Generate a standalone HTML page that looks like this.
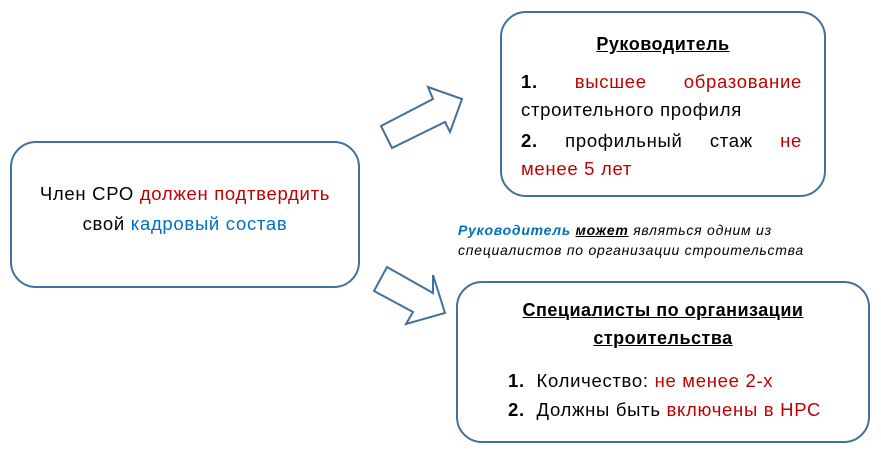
<!DOCTYPE html>
<html><head><meta charset="utf-8"><style>
body{margin:0;width:881px;height:462px;background:#fff;position:relative;overflow:hidden;font-family:"Liberation Sans","DejaVu Sans",sans-serif;color:#000}
.box{position:absolute;border:2px solid #41719c;border-radius:26px;box-sizing:border-box;background:#fff}
.t{position:absolute;white-space:nowrap;font-size:18.5px;line-height:22px;letter-spacing:0.7px}
.r{color:#c00000}.b{color:#0070c0}
.c{text-align:center}
.h{font-weight:bold;text-decoration:underline;font-size:18px;letter-spacing:0.5px}
</style></head><body>
<svg width="881" height="462" style="position:absolute;left:0;top:0">
<polygon points="381,126 433,99 428,87 462,99 450,132 445,122 392,148" fill="#fff" stroke="#41719c" stroke-width="2" stroke-linejoin="miter"/>
<polygon points="387,267 433,293 433,275 445,313 406,324 413,312 374,291" fill="#fff" stroke="#41719c" stroke-width="2"/>
</svg>
<div class="box" style="left:10px;top:141px;width:350px;height:147px"></div>
<div class="box" style="left:500px;top:11px;width:326px;height:186px"></div>
<div class="box" style="left:456px;top:281px;width:414px;height:162px"></div>

<div class="t c" style="left:10px;width:350px;top:183px">Член СРО <span class="r">должен подтвердить</span></div>
<div class="t c" style="left:10px;width:350px;top:213px">свой <span class="b">кадровый состав</span></div>

<div class="t c h" style="left:500px;width:326px;top:33px">Руководитель</div>
<div class="t" style="left:521px;width:281px;top:71px;display:flex;justify-content:space-between"><b>1.</b><span class="r">высшее</span><span class="r">образование</span></div>
<div class="t" style="left:521px;top:99px">строительного профиля</div>
<div class="t" style="left:521px;width:281px;top:130px;display:flex;justify-content:space-between"><b>2.</b><span>профильный</span><span>стаж</span><span class="r">не</span></div>
<div class="t r" style="left:521px;top:158px">менее 5 лет</div>

<div class="t" style="left:458px;top:219px;font-size:14px;letter-spacing:0.75px;font-style:italic"><b class="b">Руководитель</b> <b style="text-decoration:underline">может</b> являться одним из</div>
<div class="t" style="left:458px;top:239px;font-size:14px;letter-spacing:0.75px;font-style:italic">специалистов по организации строительства</div>

<div class="t c h" style="left:456px;width:414px;top:299px">Специалисты по организации</div>
<div class="t c h" style="left:456px;width:414px;top:327px">строительства</div>
<div class="t" style="left:508px;top:370px"><b>1.</b>&nbsp; Количество: <span class="r">не менее 2-х</span></div>
<div class="t" style="left:508px;top:399px"><b>2.</b>&nbsp; Должны быть <span class="r">включены в НРС</span></div>
</body></html>
